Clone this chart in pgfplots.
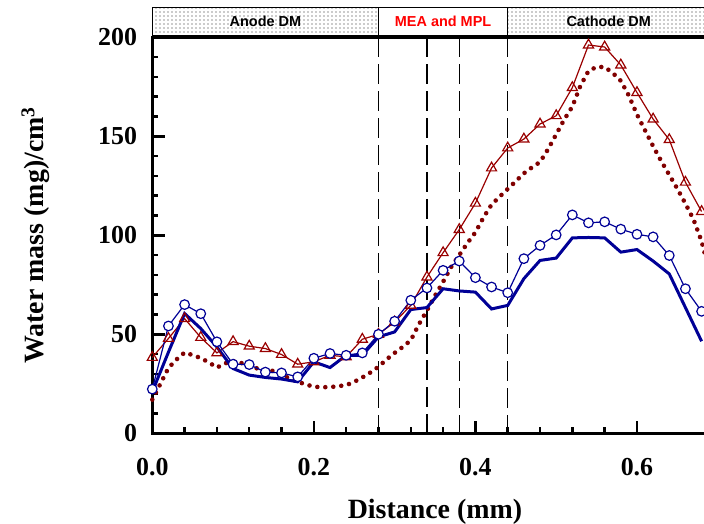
\documentclass[border=0pt]{standalone}
\usepackage{pgfplots}
\pgfplotsset{compat=1.18}
\usetikzlibrary{patterns}
\usepackage{fontspec}
\setmainfont{Liberation Serif}
\newfontfamily\arialfont{Liberation Sans}
\definecolor{cblue}{RGB}{0,0,150}
\definecolor{ctri}{RGB}{153,0,0}
\definecolor{cdot}{RGB}{128,0,0}

\pgfdeclarepatternformonly{bigdots}{\pgfpoint{-1bp}{-1bp}}{\pgfpoint{1bp}{1bp}}{\pgfpoint{4bp}{4bp}}{%
  \pgfpathcircle{\pgfpoint{0bp}{0bp}}{0.65bp}\pgfusepath{fill}}

\pgfplotstableread{
x y
0.00 22.3
0.02 54.2
0.04 65
0.06 60.4
0.08 46.2
0.10 34.9
0.12 34.7
0.14 30.9
0.16 30.5
0.18 28.5
0.20 37.9
0.22 40.3
0.24 39.4
0.26 40.6
0.28 50
0.30 56.6
0.32 67.2
0.34 73.4
0.36 82.3
0.38 87
0.40 78.6
0.42 73.9
0.44 71
0.46 88.2
0.48 94.9
0.50 100.2
0.52 110.3
0.54 106.3
0.56 106.8
0.58 103.1
0.60 100.5
0.62 99.2
0.64 89.8
0.66 73
0.68 61.6
}\circles

\pgfplotstableread{
x y
0.00 38.3
0.02 47.9
0.04 57.9
0.06 48.4
0.08 40.6
0.10 46.3
0.12 44
0.14 42.8
0.16 39.8
0.18 34.9
0.20 36.1
0.22 39.4
0.24 38.6
0.26 47.5
0.28 50
0.30 56.2
0.32 64.6
0.34 78.9
0.36 91.2
0.38 102.9
0.40 116.2
0.42 134
0.44 144.1
0.46 148.6
0.48 156.2
0.50 160.4
0.52 174.6
0.54 196.1
0.56 195.1
0.58 186
0.60 172.1
0.62 158.7
0.64 148.3
0.66 126.8
0.68 112
}\triangles

\pgfplotstableread{
x y
0.00 21
0.02 41
0.04 60.5
0.06 52.9
0.08 43.6
0.10 32.7
0.12 29.4
0.14 28.2
0.16 27.4
0.18 26
0.20 36.1
0.22 33.2
0.24 39.4
0.26 39.4
0.28 48.7
0.30 51.2
0.32 62.5
0.34 63.5
0.36 73
0.38 71.9
0.40 71.3
0.42 62.8
0.44 64.6
0.46 78.1
0.48 87.3
0.50 88.5
0.52 98.7
0.54 98.9
0.56 98.7
0.58 91.5
0.60 92.8
0.62 87
0.64 80.5
0.66 63.5
0.68 46.5
}\thick

\pgfplotstableread{
x y
0.00 17
0.01 25
0.02 33
0.03 37.3
0.04 40.8
0.05 39.5
0.06 38
0.07 35.8
0.08 33.2
0.09 35.3
0.10 36.5
0.11 35.5
0.12 34.4
0.13 32.7
0.14 32
0.15 31.5
0.16 29.5
0.17 27.7
0.18 26
0.19 24.7
0.20 23.5
0.21 23.3
0.22 23.3
0.23 23.8
0.24 24.3
0.25 26
0.26 28.2
0.27 30.7
0.28 33.6
0.29 37.3
0.30 40.6
0.31 43.6
0.32 47
0.33 55
0.34 62
0.35 69.5
0.36 76.5
0.37 84
0.38 90
0.39 96
0.40 101.5
0.41 109
0.42 115.5
0.43 119.5
0.44 123.4
0.45 127.3
0.46 131.3
0.47 134.3
0.48 137
0.49 143.5
0.50 151
0.51 158.5
0.52 165
0.53 175.5
0.54 183
0.55 185
0.56 185
0.57 182
0.58 178
0.59 170.5
0.60 161
0.61 153
0.62 145
0.63 137.5
0.64 130.5
0.65 123.5
0.66 116
0.67 108
0.68 97
0.687 86
}\dotted

\pgfplotstableread{
x y
0.28 200
0.28 0
}\lineA
\pgfplotstableread{
x y
0.38 200
0.38 0
}\lineC
\pgfplotstableread{
x y
0.44 200
0.44 0
}\lineD

\begin{document}
\begin{tikzpicture}
\begin{axis}[
  scale only axis, width=554.7bp, height=396bp,
  xmin=0, xmax=0.6867, ymin=0, ymax=200,
  clip=false,
  axis line style={line width=3.3bp},
  xtick={0,0.2,0.4,0.6}, minor x tick num=4,
  ytick={0,50,100,150,200}, minor y tick num=4,
  xtick pos=left, ytick pos=left,
  tick align=inside,
  major tick length=12.5bp, minor tick length=6bp,
  every tick/.style={line width=2.5bp, black},
  /pgf/number format/assume math mode=true,
  tick label style={font=\fontsize{26}{26}\selectfont\bfseries},
  xticklabel style={/pgf/number format/fixed, /pgf/number format/fixed zerofill, /pgf/number format/precision=1, anchor=base, inner sep=0pt, yshift=-41.7bp},
  yticklabel style={anchor=east, inner sep=0pt, xshift=-15bp},
  xlabel={Distance (mm)},
  xlabel style={at={(axis description cs:0.5096,0)}, anchor=base, yshift=-85bp, inner sep=0pt, font=\fontsize{28}{28}\selectfont\bfseries},
  ylabel={Water mass (mg)/cm\textsuperscript{3}},
  ylabel style={at={(axis description cs:-0.1965,0.5)}, anchor=base, inner sep=0pt, font=\fontsize{28}{28}\selectfont\bfseries},
]
% top band
\fill[white] (axis cs:0,200.9) rectangle (axis cs:0.72,215.2);
\fill[pattern=bigdots, pattern color=black!85] (axis cs:0,200.9) rectangle (axis cs:0.28,215.2);
\fill[pattern=bigdots, pattern color=black!85] (axis cs:0.44,200.9) rectangle (axis cs:0.72,215.2);
\draw[line width=1bp] (axis cs:0,200.9) rectangle (axis cs:0.72,215.2);
\draw[line width=1bp] (axis cs:0.28,200.9) -- (axis cs:0.28,215.2);
\draw[line width=1bp] (axis cs:0.44,200.9) -- (axis cs:0.44,215.2);
\node[font=\arialfont\fontsize{14.5}{14.5}\selectfont\bfseries] at (axis cs:0.14,208.2) {Anode DM};
\node[font=\arialfont\fontsize{14.5}{14.5}\selectfont\bfseries, text=red] at (axis cs:0.36,208.2) {MEA and MPL};
\node[font=\arialfont\fontsize{14.5}{14.5}\selectfont\bfseries] at (axis cs:0.565,208.2) {Cathode DM};
% dashed boundaries
\addplot[black, line width=1.2bp, dash pattern=on 20bp off 7bp] table {\lineA};
\addplot[black, line width=1.2bp, dash pattern=on 20bp off 7bp] table {\lineC};
\addplot[black, line width=1.2bp, dash pattern=on 20bp off 7bp] table {\lineD};
\addplot[black, line width=1.2bp, unbounded coords=jump] coordinates {
 (0.34,200) (0.34,189.9) (0.34,nan)
 (0.34,186.4) (0.34,176.3) (0.34,nan)
 (0.34,172.8) (0.34,162.7) (0.34,nan)
 (0.34,159.2) (0.34,149.1) (0.34,nan)
 (0.34,145.6) (0.34,135.5) (0.34,nan)
 (0.34,132) (0.34,121.9) (0.34,nan)
 (0.34,118.4) (0.34,108.3) (0.34,nan)
 (0.34,104.8) (0.34,94.7) (0.34,nan)
 (0.34,91.2) (0.34,81.1) (0.34,nan)
 (0.34,77.6) (0.34,67.5) (0.34,nan)
 (0.34,64) (0.34,53.9) (0.34,nan)
 (0.34,50.4) (0.34,40.3) (0.34,nan)
 (0.34,36.8) (0.34,26.7) (0.34,nan)
 (0.34,23.2) (0.34,13.1) (0.34,nan)
 (0.34,9.6) (0.34,0)
};
% data
\addplot[cdot, line width=4.6bp, line cap=round, dash pattern=on 0pt off 8bp, no marks] table {\dotted};
\addplot[ctri, line width=1.2bp, mark=triangle, mark size=5.8bp, mark options={solid, line width=1.2bp}] table {\triangles};
\addplot[cblue, line width=3bp, no marks] table {\thick};
\addplot[cblue, line width=1.2bp, mark=*, mark size=4.8bp, mark options={solid, line width=1.2bp, fill=white, draw=cblue}] table {\circles};
\end{axis}
\pgfresetboundingbox
\useasboundingbox (-152.3bp,-90.7bp) rectangle (551.7bp,433.3bp);
\end{tikzpicture}
\end{document}
